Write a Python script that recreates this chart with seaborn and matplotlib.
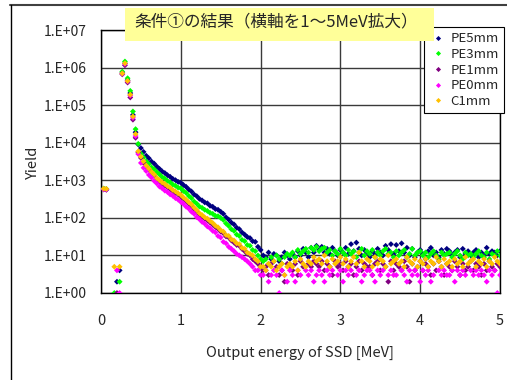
import numpy as np
import pandas as pd
import matplotlib
matplotlib.use("Agg")
import matplotlib.pyplot as plt
import seaborn as sns
from matplotlib.patches import Rectangle
from matplotlib.lines import Line2D
from matplotlib.ticker import FixedLocator, MultipleLocator

# ---------------- data ----------------
series_names = ["PE5mm", "PE3mm", "PE1mm", "PE0mm", "C1mm"]
series_colors = ["#000080", "#00FF00", "#800080", "#FF00FF", "#FFC000"]
bin_width = 1 / 30  # MeV per bin (bins 1..150)

# bins 1..7 (0.03 - 0.23 MeV), 0 = empty bin
low_pe5 = [590, 570, 0, 0, 0, 2, 4]
low_pe3 = [600, 590, 0, 0, 1, 0, 2]
low_pe1 = [570, 560, 0, 0, 0, 1, 0]
low_pe0 = [580, 570, 0, 0, 0, 4, 1]
low_c1 = [600, 590, 0, 0, 5, 0, 5]

# bins 8..13 (peak)
peak_pe5 = [720000, 1300000, 460000, 210000, 55000, 19000]
peak_pe3 = [780000, 1450000, 520000, 240000, 68000, 23000]
peak_pe1 = [660000, 1150000, 400000, 160000, 41000, 13500]
peak_pe0 = [690000, 1250000, 430000, 180000, 46000, 15000]
peak_c1 = [700000, 1300000, 440000, 190000, 50000, 17000]

# bins 14..60 (falling part, 0.47 - 2.0 MeV)
decay_pe5 = [9000, 7200, 5700, 4500, 3850, 3150, 2780, 2320, 2010, 1720,
             1560, 1370, 1240, 1090, 1010, 905, 860, 750, 670, 570,
             505, 420, 378, 320, 292, 258, 244, 210, 198, 172,
             165, 146, 128, 103, 90, 75, 67, 55, 50, 41,
             36, 31, 29, 24, 23, 17, 14]
decay_pe3 = [9300, 5100, 4050, 3200, 2720, 2210, 1960, 1640, 1430, 1220,
             1110, 960, 880, 770, 715, 640, 610, 520, 462, 385,
             335, 272, 238, 200, 185, 164, 153, 136, 128, 113,
             111, 100, 88, 71, 61, 50, 45, 36, 33, 26,
             24, 19, 18, 14, 13, 10, 8]
decay_pe1 = [5600, 3950, 2900, 2300, 1900, 1550, 1300, 1080, 920, 820,
             730, 650, 580, 515, 460, 420, 372, 325, 280, 240,
             206, 172, 145, 123, 107, 95, 86, 75, 66, 57,
             51, 43, 39, 32, 30, 25, 22, 19, 18, 15,
             13, 11, 10, 8, 7, 6, 5]
decay_pe0 = [5000, 2900, 2150, 1760, 1390, 1180, 960, 820, 680, 610,
             530, 485, 420, 385, 335, 305, 265, 236, 198, 176,
             146, 128, 105, 92, 78, 70, 59, 53, 45, 41,
             33, 30, 23, 21, 17, 15, 13, 11, 10, 9,
             8, 7, 6, 5, 4, 4, 3]
decay_c1 = [5900, 4250, 3200, 2480, 2060, 1680, 1430, 1150, 1010, 880,
            800, 700, 640, 555, 505, 450, 410, 350, 305, 260,
            228, 188, 160, 133, 119, 103, 95, 82, 73, 62,
            56, 47, 43, 35, 33, 27, 25, 21, 20, 16,
            15, 12, 11, 10, 8, 7, 5]

# bins 61..150 (flat noise part, 2.03 - 5.0 MeV), 0 = empty bin
noise_pe5 = [10, 9, 12, 8, 11, 10, 7, 9, 12, 10,
             8, 11, 9, 13, 10, 15, 12, 9, 16, 12,
             18, 14, 17, 12, 15, 11, 16, 13, 10, 14,
             12, 16, 11, 20, 13, 22, 15, 10, 14, 12,
             9, 13, 11, 15, 12, 10, 18, 14, 20, 11,
             19, 13, 21, 12, 16, 10, 15, 9, 12, 14,
             11, 8, 13, 16, 10, 12, 9, 14, 11, 15,
             13, 10, 12, 14, 9, 15, 11, 13, 10, 12,
             14, 9, 12, 10, 16, 11, 13, 12, 10, 13]
noise_pe3 = [7, 8, 6, 9, 7, 10, 8, 6, 9, 11,
             10, 12, 9, 14, 11, 13, 15, 12, 16, 14,
             17, 13, 15, 16, 12, 14, 10, 13, 11, 15,
             12, 10, 14, 11, 13, 9, 12, 15, 10, 13,
             11, 14, 9, 12, 10, 13, 15, 11, 12, 9,
             13, 10, 12, 14, 9, 11, 15, 10, 12, 13,
             10, 12, 9, 11, 13, 10, 8, 12, 10, 11,
             12, 9, 11, 13, 10, 8, 12, 10, 11, 9,
             11, 13, 10, 9, 12, 8, 11, 10, 13, 10]
noise_pe1 = [4, 5, 3, 6, 0, 5, 3, 4, 2, 6,
             5, 4, 6, 3, 7, 5, 0, 6, 5, 7,
             6, 5, 7, 4, 6, 5, 3, 7, 5, 6,
             4, 7, 5, 6, 3, 5, 7, 4, 6, 5,
             5, 3, 6, 7, 4, 6, 5, 2, 7, 4,
             6, 5, 4, 7, 5, 2, 6, 4, 5, 7,
             4, 6, 5, 3, 6, 4, 7, 5, 3, 6,
             5, 4, 7, 5, 3, 6, 4, 5, 7, 4,
             6, 5, 3, 6, 4, 7, 5, 4, 6, 5]
noise_pe0 = [3, 4, 2, 3, 4, 3, 1, 4, 3, 2,
             4, 3, 2, 4, 3, 0, 4, 3, 4, 2,
             3, 4, 3, 2, 4, 3, 4, 0, 3, 4,
             2, 4, 3, 4, 0, 3, 4, 2, 3, 4,
             4, 3, 2, 4, 3, 4, 0, 3, 4, 3,
             3, 0, 4, 3, 2, 4, 3, 4, 3, 2,
             4, 3, 4, 2, 3, 0, 4, 3, 4, 3,
             3, 4, 2, 4, 3, 4, 3, 0, 4, 3,
             4, 3, 4, 3, 2, 4, 3, 4, 1, 3]
noise_c1 = [5, 4, 6, 5, 7, 4, 5, 6, 3, 5,
            6, 5, 7, 4, 8, 6, 5, 7, 6, 9,
            7, 8, 6, 10, 7, 5, 8, 6, 7, 9,
            6, 8, 5, 7, 9, 6, 12, 7, 5, 8,
            7, 5, 9, 6, 8, 7, 5, 10, 6, 7,
            8, 6, 7, 5, 9, 7, 6, 8, 5, 7,
            6, 8, 5, 7, 6, 9, 7, 5, 8, 6,
            7, 5, 8, 6, 7, 5, 9, 6, 7, 8,
            5, 7, 6, 8, 5, 7, 6, 9, 7, 6]

yticks_vals = [1, 10, 100, 1000, 10000, 100000, 1000000, 10000000]
ytick_labels = ["1.E+00", "1.E+01", "1.E+02", "1.E+03", "1.E+04",
                "1.E+05", "1.E+06", "1.E+07"]
xticks_vals = [0, 1, 2, 3, 4, 5]

title_text = "条件①の結果（横軸を1～5MeV拡大）"
xlabel_text = "Output energy of SSD [MeV]"
ylabel_text = "Yield"

# ---------------- build table ----------------
parts = {
    "PE5mm": (low_pe5, peak_pe5, decay_pe5, noise_pe5),
    "PE3mm": (low_pe3, peak_pe3, decay_pe3, noise_pe3),
    "PE1mm": (low_pe1, peak_pe1, decay_pe1, noise_pe1),
    "PE0mm": (low_pe0, peak_pe0, decay_pe0, noise_pe0),
    "C1mm": (low_c1, peak_c1, decay_c1, noise_c1),
}
frames = []
for name in series_names:
    counts = np.concatenate([np.asarray(p, dtype=float) for p in parts[name]])
    energy = np.arange(1, len(counts) + 1) * bin_width
    d = pd.DataFrame({"energy": energy, "yield": counts, "series": name})
    frames.append(d[d["yield"] > 0])
df = pd.concat(frames, ignore_index=True)

# ---------------- plot ----------------
sns.set_style("white")
plt.rcParams["font.family"] = ["Noto Sans CJK JP", "DejaVu Sans"]

W, H = 507, 380
fig = plt.figure(figsize=(W / 100, H / 100), dpi=100)
ax = fig.add_axes([101 / W, 87 / H, 399 / W, 263 / H])

sns.scatterplot(data=df, x="energy", y="yield", hue="series",
                hue_order=series_names, palette=series_colors,
                marker="D", s=9, linewidth=0, legend=False, ax=ax,
                zorder=3)

ax.set_yscale("log")
ax.set_xlim(0, 5)
ax.set_ylim(1, 1e7)
ax.yaxis.set_major_locator(FixedLocator(yticks_vals))
ax.yaxis.set_minor_locator(FixedLocator([]))
ax.set_yticklabels(ytick_labels)
ax.set_xticks(xticks_vals)
ax.set_xticklabels([str(v) for v in xticks_vals])
ax.xaxis.set_minor_locator(MultipleLocator(0.2))

ax.grid(True, which="major", color="#3a3a3a", lw=1.0)
ax.set_axisbelow(True)
for sp in ax.spines.values():
    sp.set_color("black")
    sp.set_linewidth(1.0)

ax.tick_params(axis="y", which="major", direction="in", length=4,
               color="#888888", width=1.5, pad=10, labelsize=10)
ax.tick_params(axis="x", which="major", direction="in", length=4,
               color="#555555", pad=15, labelsize=10.5)
ax.tick_params(axis="x", which="minor", direction="in", length=3,
               color="#555555", width=0.8)
ax.set_xlabel("")
ax.set_ylabel("")

fig.text(33 / W, 1 - 162 / H, ylabel_text, rotation=90, ha="center",
         va="center", fontsize=10.5)
fig.text(300 / W, 1 - 353 / H, xlabel_text, ha="center", va="center",
         fontsize=10.5)

# legend
handles = [Line2D([], [], marker="D", ls="", color=c, markersize=2.6,
                  markeredgewidth=0) for c in series_colors]
leg = ax.legend(handles, series_names, loc="upper left",
                bbox_to_anchor=(424 / W, 1 - 27 / H),
                bbox_transform=fig.transFigure, frameon=True,
                fancybox=False, edgecolor="black", framealpha=1,
                fontsize=9.5, handlelength=1.3, handletextpad=0.3,
                borderpad=0.4, labelspacing=0.2, borderaxespad=0)
leg.get_frame().set_linewidth(0.8)
leg.set_zorder(5)

# title box
fig.add_artist(Rectangle((125 / W, 1 - 41 / H), 309 / W, 33 / H,
                         transform=fig.transFigure, facecolor="#FFFF99",
                         edgecolor="none", zorder=2))
fig.text(276 / W, 1 - 22 / H, title_text, ha="center", va="center",
         fontsize=12, zorder=3)

# chart-area border
fig.add_artist(Line2D([10 / W, 1], [1 - 4.5 / H, 1 - 4.5 / H],
                      transform=fig.transFigure, color="#404040", lw=1.5))
fig.add_artist(Line2D([10.5 / W, 10.5 / W], [0, 1 - 4.5 / H],
                      transform=fig.transFigure, color="black", lw=1.0))

fig.savefig("out.png", dpi=100)
